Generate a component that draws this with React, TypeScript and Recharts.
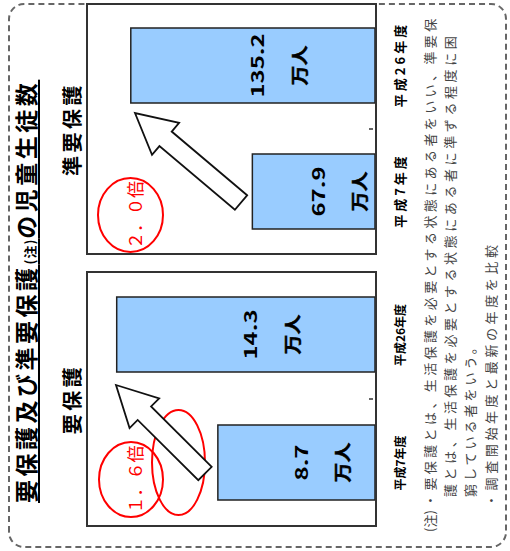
import { BarChart, Bar, XAxis, YAxis, LabelList } from 'recharts';

const years = ['平成7年度', '平成26年度'];
const youhogoValues = [8.7, 14.3];
const junYouhogoValues = [67.9, 135.2];
const unitLabel = '万人';
const panelTitles = ['要保護', '準要保護'];
const ratioLabels = ['１．６倍', '２．０倍'];
const titleHead = '要保護及び準要保護';
const titleNote = '(注)';
const titleTail = 'の児童生徒数';
const noteMark = '(注)';
const noteLines = [
  '・要保護とは、生活保護を必要とする状態にある者をいい、準要保',
  '護とは、生活保護を必要とする状態にある者に準ずる程度に困',
  '窮している者をいう。',
  '・調査開始年度と最新の年度を比較',
];

const FONT = '"Noto Sans CJK JP", "Noto Sans", sans-serif';

const youhogoData = years.map((year, i) => ({ year, value: youhogoValues[i] }));
const junYouhogoData = years.map((year, i) => ({ year, value: junYouhogoValues[i] }));

// value + 万人 label sitting inside each bar
const renderBarLabel = (props: any) => {
  const { x, y, width, height, value } = props;
  const cx = x + width / 2;
  const cy = y + height / 2;
  return (
    <g fontFamily={FONT} fontWeight="bold" fill="#000">
      <text
        transform={`translate(${cx},${cy + 4}) scale(1.4,1)`}
        textAnchor="middle"
        dominantBaseline="central"
        fontSize={17}
      >
        {value}
      </text>
      <text
        transform={`translate(${cx},${cy + 45}) scale(1.18,1)`}
        textAnchor="middle"
        dominantBaseline="central"
        fontSize={17}
        stroke="#000"
        strokeWidth={0.4}
      >
        {unitLabel}
      </text>
    </g>
  );
};

const makeYearTick = (size: number, spacing: number) => (props: any) => {
  const { x, y, payload, index } = props;
  return (
    <g>
      {index === 0 && (
        // small inward tick between the two categories
        <line x1={x * 2} x2={x * 2} y1={y - 10} y2={y - 14} stroke="#333" strokeWidth={1.5} />
      )}
      <text
        x={x + spacing / 2}
        y={y + 16}
        textAnchor="middle"
        dominantBaseline="central"
        fontFamily={FONT}
        fontWeight="bold"
        fontSize={size}
        letterSpacing={spacing}
        fill="#000"
      >
        {payload.value}
      </text>
    </g>
  );
};

function Panel({ data, max, left, width, tickSize, tickSpacing }: any) {
  return (
    <>
      <div style={{ position: 'absolute', left, top: 86 }}>
        <BarChart width={width} height={329} data={data} margin={{ top: 0, right: 0, bottom: 0, left: 0 }}>
          <XAxis
            dataKey="year"
            height={40}
            axisLine={false}
            tickLine={false}
            interval={0}
            tick={makeYearTick(tickSize, tickSpacing)}
          />
          <YAxis hide domain={[0, max]} />
          <Bar dataKey="value" fill="#99ccff" stroke="#222" strokeWidth={1.5} barSize={75} isAnimationActive={false}>
            <LabelList dataKey="value" content={renderBarLabel} />
          </Bar>
        </BarChart>
      </div>
      <div
        style={{
          position: 'absolute',
          left,
          top: 86,
          width,
          height: 291,
          boxSizing: 'border-box',
          border: '2px solid #333',
          pointerEvents: 'none',
        }}
      />
    </>
  );
}

function arrowPoints(tipU: number, tipV: number, tailU: number, tailV: number) {
  const dx = tipU - tailU;
  const dy = tipV - tailV;
  const len = Math.hypot(dx, dy);
  const ux = dx / len;
  const uy = dy / len;
  const nx = -uy;
  const ny = ux;
  const shaft = 9.5;
  const head = 21;
  const headLen = 40;
  const bx = tipU - ux * headLen;
  const by = tipV - uy * headLen;
  const pts = [
    [tailU + nx * shaft, tailV + ny * shaft],
    [bx + nx * shaft, by + ny * shaft],
    [bx + nx * head, by + ny * head],
    [tipU, tipV],
    [bx - nx * head, by - ny * head],
    [bx - nx * shaft, by - ny * shaft],
    [tailU - nx * shaft, tailV - ny * shaft],
  ];
  return pts.map((p) => p.join(',')).join(' ');
}

export default function App() {
  return (
    <div style={{ position: 'fixed', left: 0, top: 0, width: 510, height: 551, background: '#fff', overflow: 'hidden' }}>
      <div
        style={{
          position: 'absolute',
          left: 0,
          top: 0,
          width: 551,
          height: 510,
          transformOrigin: '0 0',
          transform: 'translateY(551px) rotate(-90deg)',
          fontFamily: FONT,
          color: '#000',
        }}
      >
        {/* rounded dashed frame */}
        <div
          style={{
            position: 'absolute',
            left: 3,
            top: 8,
            width: 545,
            height: 499,
            boxSizing: 'border-box',
            border: '2px dashed #666',
            borderRadius: 16,
          }}
        />

        <div
          style={{
            position: 'absolute',
            left: 48,
            top: 10,
            fontSize: 23,
            fontWeight: 'bold',
            letterSpacing: 3.5,
            lineHeight: '30px',
            whiteSpace: 'nowrap',
            textDecoration: 'underline',
            textDecorationThickness: '2px',
            textUnderlineOffset: '3px',
          }}
        >
          {titleHead}
          <span style={{ fontSize: 13, letterSpacing: 1 }}>{titleNote}</span>
          {titleTail}
        </div>

        <div style={{ position: 'absolute', left: 24, width: 256, top: 60, textAlign: 'center', fontSize: 20, fontWeight: 'bold', letterSpacing: 3.5, lineHeight: '24px' }}>
          {panelTitles[0]}
        </div>
        <div style={{ position: 'absolute', left: 296, width: 252, top: 60, textAlign: 'center', fontSize: 20, fontWeight: 'bold', letterSpacing: 3.5, lineHeight: '24px' }}>
          {panelTitles[1]}
        </div>

        <Panel data={youhogoData} max={16} left={24} width={256} tickSize={12} tickSpacing={0} />
        <Panel data={junYouhogoData} max={160} left={296} width={252} tickSize={13} tickSpacing={3} />

        <svg width={551} height={510} style={{ position: 'absolute', left: 0, top: 0, pointerEvents: 'none' }}>
          <g fill="none" stroke="#ff0000" strokeWidth={2}>
            <ellipse cx={71.5} cy={131} rx={37.5} ry={32} />
            <ellipse cx={88.5} cy={178.5} rx={52.5} ry={26.5} />
            <ellipse cx={336} cy={130.5} rx={37} ry={32.5} />
          </g>
          <g fill="#ff0000" fontFamily={FONT} fontSize={17} textAnchor="middle" dominantBaseline="central">
            <text x={71.5} y={134.5}>{ratioLabels[0]}</text>
            <text x={336} y={134.5}>{ratioLabels[1]}</text>
          </g>
          <g fill="#fff" stroke="#111" strokeWidth={1.8} strokeLinejoin="miter">
            <polygon points={arrowPoints(166, 116, 77.5, 205)} />
            <polygon points={arrowPoints(438, 135, 348.5, 241)} />
          </g>
        </svg>

        <div style={{ position: 'absolute', left: 0, top: 420, fontSize: 13, color: '#444', lineHeight: '20px', whiteSpace: 'nowrap' }}>
          <div style={{ position: 'absolute', left: 19, top: 0 }}>{noteMark}</div>
          <div style={{ position: 'absolute', left: 44, top: 0, letterSpacing: 3.4 }}>{noteLines[0]}</div>
          <div style={{ position: 'absolute', left: 54, top: 20, letterSpacing: 3.6 }}>{noteLines[1]}</div>
          <div style={{ position: 'absolute', left: 54, top: 40, letterSpacing: 3 }}>{noteLines[2]}</div>
          <div style={{ position: 'absolute', left: 44, top: 61, letterSpacing: 3.6 }}>{noteLines[3]}</div>
        </div>
      </div>
    </div>
  );
}
